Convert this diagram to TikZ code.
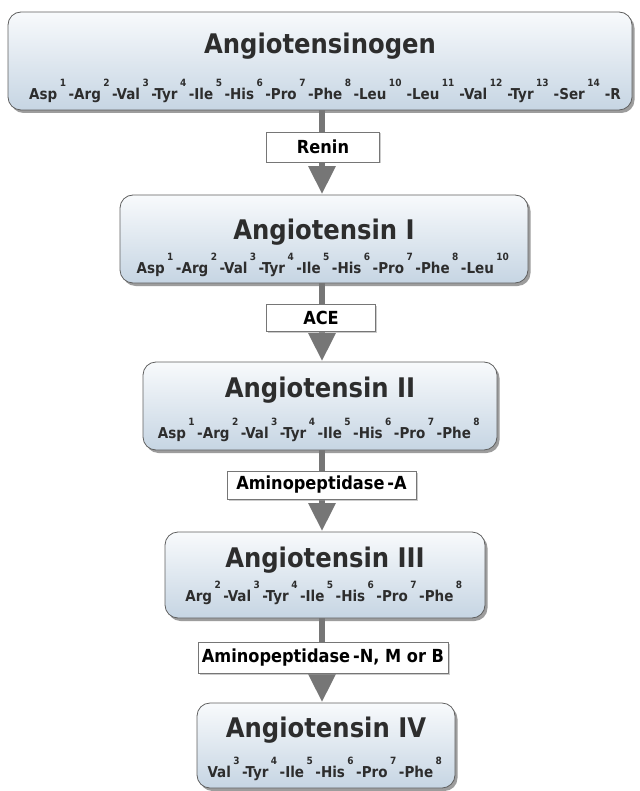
\documentclass[tikz,border=0pt]{standalone}
\usepackage{fontspec}
\setmainfont{DejaVu Sans Condensed}
\usetikzlibrary{arrows.meta,shadows}
\definecolor{txt}{RGB}{45,45,45}
\definecolor{boxtop}{RGB}{248,250,252}
\definecolor{boxbot}{RGB}{198,213,227}
\definecolor{edge}{RGB}{95,95,95}
\definecolor{arr}{RGB}{118,118,118}
\newcommand\rs[2]{#1\,\raisebox{0.85em}{\fontsize{10}{10}\selectfont #2}\,}
\tikzset{
  mainbox/.style={draw=edge, line width=0.8pt, rounded corners=13pt,
    top color=boxtop, bottom color=boxbot,
    drop shadow={shadow xshift=2.5pt, shadow yshift=-3pt, fill=black!70, opacity=0.55},
    inner sep=0pt},
  ttl/.style={font=\bfseries\fontsize{27}{27}\selectfont, text=txt, inner sep=0pt},
  seq/.style={font=\bfseries\fontsize{15}{15}\selectfont, text=txt, inner sep=0pt},
  enz/.style={draw=arr, line width=0.8pt, fill=white, font=\bfseries\fontsize{18}{18}\selectfont,
    text=black, inner sep=0pt,
    drop shadow={shadow xshift=1.5pt, shadow yshift=-1.5pt, fill=black!40, opacity=0.5}},
  conv/.style={draw=arr, line width=6pt, -{Triangle[width=26pt,length=28pt]}, shorten >=0.5pt},
}
\begin{document}
\begin{tikzpicture}[x=1pt,y=-1pt]
\useasboundingbox (0,0) rectangle (639,791);
\node[mainbox, minimum width=624pt, minimum height=98pt] (b1) at (320,61) {};
\node[mainbox, minimum width=408pt, minimum height=88pt] (b2) at (324,239) {};
\node[mainbox, minimum width=354pt, minimum height=88pt] (b3) at (320,406) {};
\node[mainbox, minimum width=320pt, minimum height=86pt] (b4) at (325,575) {};
\node[mainbox, minimum width=258pt, minimum height=85pt] (b5) at (326,745.5) {};
\draw[conv] (b1.south -| 322,0) -- (b2.north -| 322,0);
\draw[conv] (b2.south -| 322,0) -- (b3.north -| 322,0);
\draw[conv] (b3.south -| 322,0) -- (b4.north -| 322,0);
\draw[conv] (b4.south -| 322,0) -- (b5.north -| 322,0);
\node[enz, minimum width=113pt, minimum height=30pt] (e1) at (323,147) {Renin};
\node[enz, minimum width=109pt, minimum height=27pt] (e2) at (321,317.5) {ACE};
\node[enz, minimum width=189pt, minimum height=28pt] (e3) at (321.5,485) {Aminopeptidase\,-A};
\node[enz, minimum width=250pt, minimum height=31pt] (e4) at (323,657.5) {Aminopeptidase\,-N, M or B};
\node[ttl] (t1) at (320,46) {Angiotensinogen};
\node[seq] (s1) at (325,91) {\rs{Asp}{1}-\rs{Arg}{2}-\rs{Val}{3}-\rs{Tyr}{4}-\rs{Ile}{5}-\rs{His}{6}-\rs{Pro}{7}-\rs{Phe}{8}-\rs{Leu}{10}\,-\rs{Leu}{11}\,-\rs{Val}{12}\,-\rs{Tyr}{13}\,-\rs{Ser}{14}\,-R};
\node[ttl] (t2) at (324,232) {Angiotensin I};
\node[seq] (s2) at (324,265) {\rs{Asp}{1}-\rs{Arg}{2}-\rs{Val}{3}-\rs{Tyr}{4}-\rs{Ile}{5}-\rs{His}{6}-\rs{Pro}{7}-\rs{Phe}{8}-\rs{Leu}{10}};
\node[ttl] (t3) at (320,390) {Angiotensin II};
\node[seq] (s3) at (320,430) {\rs{Asp}{1}-\rs{Arg}{2}-\rs{Val}{3}-\rs{Tyr}{4}-\rs{Ile}{5}-\rs{His}{6}-\rs{Pro}{7}-\rs{Phe}{8}};
\node[ttl] (t4) at (325,560) {Angiotensin III};
\node[seq] (s4) at (325,593) {\rs{Arg}{2}-\rs{Val}{3}-\rs{Tyr}{4}-\rs{Ile}{5}-\rs{His}{6}-\rs{Pro}{7}-\rs{Phe}{8}};
\node[ttl] (t5) at (326,730) {Angiotensin IV};
\node[seq] (s5) at (326,769) {\rs{Val}{3}-\rs{Tyr}{4}-\rs{Ile}{5}-\rs{His}{6}-\rs{Pro}{7}-\rs{Phe}{8}};
\end{tikzpicture}
\end{document}
